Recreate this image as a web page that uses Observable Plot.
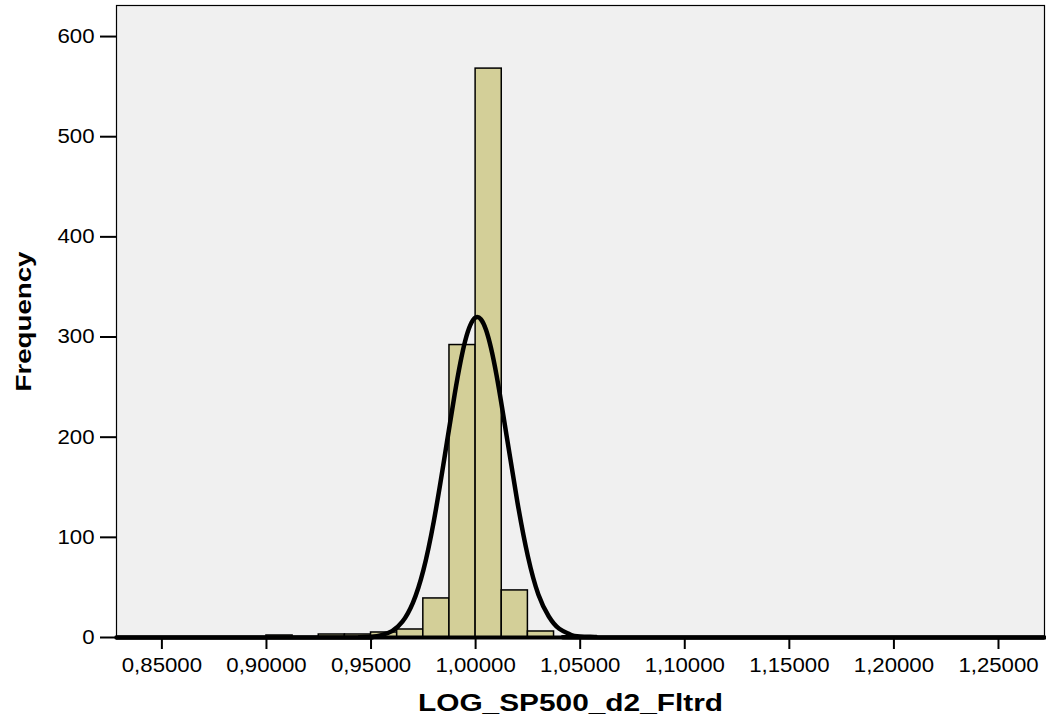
<!DOCTYPE html>
<html>
<head>
<meta charset="utf-8">
<script src="https://cdn.jsdelivr.net/npm/d3@7"></script>
<script src="https://cdn.jsdelivr.net/npm/@observablehq/plot@0.6"></script>
<style>
  html, body { margin: 0; padding: 0; background: white; }
</style>
</head>
<body>
<script>
// Histogram bins (lower edge) and frequencies, bin width 0.0125
const binStart = [0.9, 0.925, 0.9375, 0.95, 0.9625, 0.975, 0.9875, 1.0, 1.0125, 1.025];
const binWidth = 0.0125;
const counts   = [2, 3, 3, 5, 8, 39, 292, 568, 47, 6];

// Normal curve points
const curveX = [0.8283, 0.94, 0.945, 0.95, 0.955, 0.96, 0.965, 0.97, 0.975, 0.98, 0.985, 0.99, 0.995, 1.0,
                1.005, 1.01, 1.015, 1.02, 1.025, 1.03, 1.035, 1.04, 1.045, 1.05, 1.055, 1.06, 1.272];
const curveY = [0, 0.05, 0.2, 0.75, 2.3, 6.4, 15.8, 34.6, 67, 116, 178, 243, 296, 319.5,
                307, 262, 199, 135, 81, 43, 21, 8.7, 3.3, 1.1, 0.3, 0.1, 0];

const xTicks = [0.85, 0.90, 0.95, 1.00, 1.05, 1.10, 1.15, 1.20, 1.25];
const yTicks = [0, 100, 200, 300, 400, 500, 600];
const xTitle = "LOG_SP500_d2_Fltrd";
const yTitle = "Frequency";

const bins = binStart.map((s, i) => ({x1: s, x2: s + binWidth, y: counts[i]}));
const curve = curveX.map((x, i) => ({x, y: curveY[i]}));

const font = "'Liberation Sans', Arial, Helvetica, sans-serif";

const chart = Plot.plot({
  width: 1046,
  height: 721,
  marginLeft: 116,
  marginRight: 2,
  marginTop: 5,
  marginBottom: 84,
  style: {fontFamily: font, fontSize: "20px", background: "white", color: "black"},
  x: {domain: [0.8283, 1.272], ticks: xTicks, tickFormat: d => d.toFixed(5).replace(".", ","),
      tickSize: 12, tickPadding: 8, label: null},
  y: {domain: [0, 631], ticks: yTicks, tickSize: 16, tickPadding: 6, label: null},
  marks: [
    Plot.frame({fill: "#f0f0f0"}),
    Plot.rectY(bins, {x1: "x1", x2: "x2", y: "y", fill: "#d3cf98", stroke: "black", strokeWidth: 1.5}),
    Plot.line(curve, {x: "x", y: "y", curve: "natural", stroke: "black", strokeWidth: 4.5}),
    Plot.frame({stroke: "black", strokeWidth: 1.2}),
    Plot.ruleY([0], {stroke: "black", strokeWidth: 4}),
    Plot.text([xTitle], {frameAnchor: "bottom", dx: -10, dy: 66, lineAnchor: "middle", textAnchor: "middle",
      fontSize: 24, fontWeight: "bold", fill: "black"}),
    Plot.text([yTitle], {frameAnchor: "left", dx: -93, rotate: -90, lineAnchor: "middle", textAnchor: "middle",
      fontSize: 22, fontWeight: "bold", fill: "black"})
  ]
});

document.body.append(chart);

// Tick lines a bit heavier, like the original
chart.querySelectorAll('[aria-label="x-axis"] line, [aria-label="y-axis"] line, [aria-label="x-axis tick"] path, [aria-label="y-axis tick"] path')
  .forEach(el => el.setAttribute("stroke-width", 2));

// The original is stretched horizontally; widen glyphs accordingly
chart.querySelectorAll("text").forEach(t => {
  const s = t.textContent;
  const len = t.getComputedTextLength();
  if (!len) return;
  let target;
  if (s === xTitle) target = 305;
  else if (s === yTitle) target = 140;
  else target = len * 1.11;
  t.setAttribute("textLength", target);
  t.setAttribute("lengthAdjust", "spacingAndGlyphs");
});
</script>
</body>
</html>
